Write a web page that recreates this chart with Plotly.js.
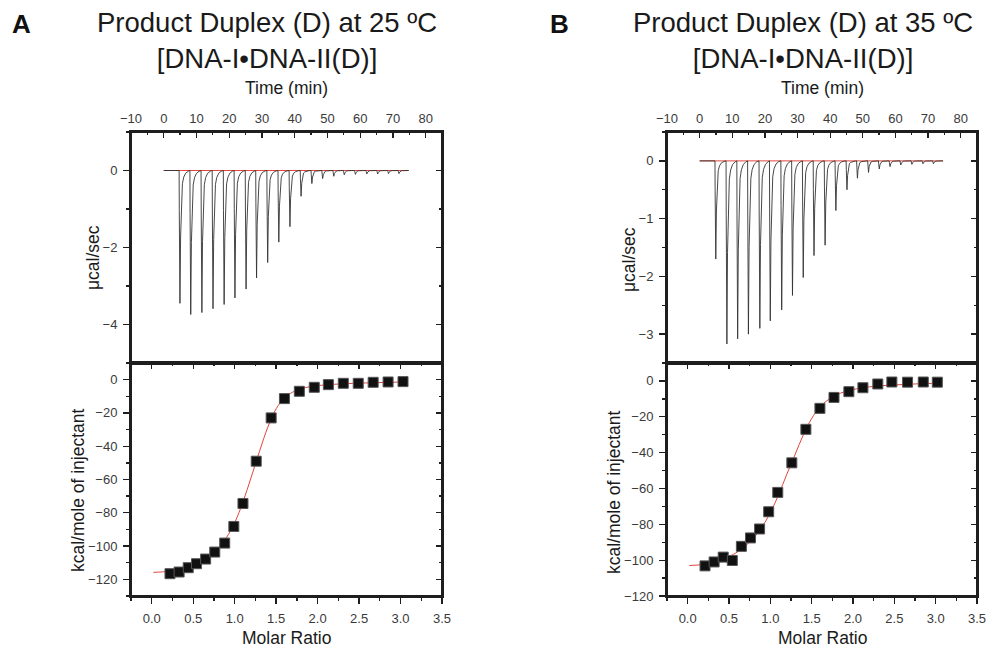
<!DOCTYPE html>
<html>
<head>
<meta charset="utf-8">
<script src="https://cdn.plot.ly/plotly-3.0.1.min.js"></script>
<style>html,body{margin:0;padding:0;background:#fff;}#chart{width:988px;height:648px;}</style>
</head>
<body>
<div id="chart"></div>
<script>
// ---------------- DATA ----------------
// Raw thermogram: injection times (min) and peak depth (µcal/sec)
const injTimeA = [4.7, 8.0, 11.4, 14.8, 18.2, 21.5, 24.9, 28.1, 31.5, 34.9, 38.3, 41.7, 45.0, 48.3, 51.7, 54.9, 58.3, 61.8, 65.1, 68.4, 71.6];
const peakA = [-3.45, -3.74, -3.69, -3.59, -3.48, -3.31, -3.08, -2.79, -2.39, -1.86, -1.46, -0.67, -0.34, -0.21, -0.15, -0.11, -0.10, -0.09, -0.09, -0.08, -0.08];
const injTimeB = [4.7, 8.1, 11.4, 14.7, 18.2, 21.4, 24.9, 28.2, 31.5, 34.8, 38.2, 41.5, 44.9, 48.1, 51.5, 54.8, 58.1, 61.4, 64.8, 68.2, 71.4];
const peakB = [-1.70, -3.17, -3.08, -3.00, -2.90, -2.77, -2.58, -2.33, -2.02, -1.64, -1.46, -0.86, -0.50, -0.30, -0.20, -0.14, -0.10, -0.07, -0.06, -0.05, -0.05];
// Shape of one injection peak (offset in min, fraction of depth)
const peakProfileMin = [0.05, 0.25, 0.45, 0.7, 1.0, 1.4, 2.0, 2.8, 3.2];
const peakProfileFrac = [0.3, 1.0, 0.5, 0.22, 0.1, 0.05, 0.02, 0.005, 0];
// Baseline (red) span in minutes
const baseTimeA = [0, 74.3];
const baseTimeB = [0, 74.5];
const baseVal = [0, 0];

// Integrated heats (kcal/mole of injectant) vs molar ratio
const ratioA = [0.22, 0.33, 0.44, 0.54, 0.65, 0.76, 0.88, 0.99, 1.10, 1.26, 1.44, 1.60, 1.78, 1.96, 2.13, 2.31, 2.49, 2.67, 2.85, 3.03];
const heatA = [-116.6, -115.6, -113.0, -110.6, -107.8, -103.6, -98.2, -88.2, -74.4, -49.0, -23.0, -11.4, -7.0, -4.6, -3.0, -2.2, -2.2, -1.6, -1.4, -1.2];
const fitRatioA = [0.02, 0.2, 0.3, 0.4, 0.5, 0.6, 0.7, 0.8, 0.9, 1.0, 1.1, 1.2, 1.3, 1.4, 1.5, 1.6, 1.7, 1.8, 1.9, 2.0, 2.2, 2.5, 2.8, 3.03];
const fitHeatA = [-115.8, -115.2, -114.3, -113.0, -111.3, -109.0, -105.8, -101.5, -95.0, -86.0, -73.5, -58.5, -43.0, -28.5, -17.5, -11.0, -7.5, -5.5, -4.3, -3.6, -2.8, -2.1, -1.7, -1.4];

const ratioB = [0.21, 0.32, 0.43, 0.54, 0.65, 0.76, 0.87, 0.98, 1.09, 1.26, 1.43, 1.60, 1.77, 1.95, 2.12, 2.30, 2.47, 2.66, 2.85, 3.02];
const heatB = [-103.2, -101.0, -98.3, -100.2, -92.3, -87.6, -82.6, -73.0, -62.2, -45.7, -27.0, -15.3, -9.2, -6.0, -3.8, -1.7, -0.6, -0.7, -0.6, -0.7];
const fitRatioB = [0.02, 0.2, 0.4, 0.5, 0.6, 0.7, 0.8, 0.9, 1.0, 1.1, 1.2, 1.3, 1.4, 1.5, 1.6, 1.7, 1.8, 1.9, 2.0, 2.2, 2.4, 2.6, 2.8, 3.02];
const fitHeatB = [-103.0, -102.3, -99.8, -98.0, -95.5, -92.0, -87.5, -81.5, -73.5, -63.5, -52.0, -41.0, -30.0, -21.0, -14.5, -10.5, -7.8, -6.0, -4.8, -3.3, -2.5, -2.0, -1.6, -1.3];

const timeTicks = [-10, 0, 10, 20, 30, 40, 50, 60, 70, 80];
const ratioTicks = [0.0, 0.5, 1.0, 1.5, 2.0, 2.5, 3.0, 3.5];

// ---------------- BUILD ----------------
function thermogram(times, peaks, endT) {
  const x = [0], y = [0];
  times.forEach((t, i) => {
    x.push(t); y.push(0);
    peakProfileMin.forEach((o, k) => { x.push(t + o); y.push(peaks[i] * peakProfileFrac[k]); });
  });
  x.push(endT); y.push(0);
  return {x, y};
}
const thA = thermogram(injTimeA, peakA, baseTimeA[1]);
const thB = thermogram(injTimeB, peakB, baseTimeB[1]);

const W = 988, H = 648;
const px = v => v / W, py = v => 1 - v / H;
const FONT = 'Liberation Sans, Arial, sans-serif';
const LINEC = '#1e1e1e';
const RED = '#e2463c';
const tickFont = {family: FONT, size: 13, color: '#3a3a3a'};

const frameA = [131, 442], frameB = [667, 977];
const frameTop = [132, 363], frameBot = [363, 596];
const domA = frameA.map(px), domB = frameB.map(px);
const domTop = [py(frameTop[1]), py(frameTop[0])], domBot = [py(frameBot[1]), py(frameBot[0])];

function baseAx(extra) {
  return Object.assign({
    showline: true, linecolor: LINEC, linewidth: 2, mirror: true,
    showgrid: false, zeroline: false, tickcolor: LINEC, tickwidth: 1.3,
    ticklen: 6, tickfont: tickFont, fixedrange: true
  }, extra);
}
function overAx(extra) {
  return Object.assign({
    showline: true, linecolor: LINEC, linewidth: 2, showgrid: false, zeroline: false, tickcolor: LINEC, tickwidth: 1.3,
    ticks: 'inside', ticklen: 6, showticklabels: false, fixedrange: true
  }, extra);
}

const layout = {
  width: W, height: H, margin: {l: 0, r: 0, t: 0, b: 0},
  paper_bgcolor: '#fff', plot_bgcolor: 'rgba(0,0,0,0)', showlegend: false,
  font: {family: FONT, color: '#222'},
  // Panel A
  xaxis: baseAx({domain: domA, anchor: 'y', side: 'top', range: [-10, 85], tickvals: timeTicks, ticks: 'inside', ticklabelstandoff: 2,
    minor: {dtick: 5, tick0: 0, ticks: 'inside', ticklen: 3, tickcolor: LINEC}}),
  yaxis: baseAx({domain: domTop, anchor: 'x', range: [-5, 1], tick0: 0, dtick: 2, ticks: 'outside', ticklabelstandoff: 3,
    minor: {dtick: 1, tick0: 0, ticks: 'outside', ticklen: 3, tickcolor: LINEC}}),
  yaxis3: overAx({overlaying: 'y', side: 'right', anchor: 'x', range: [-5, 1], tick0: 0, dtick: 2,
    minor: {dtick: 1, tick0: 0, ticks: 'inside', ticklen: 3, tickcolor: LINEC}}),
  xaxis2: baseAx({domain: domA, anchor: 'y2', side: 'bottom', range: [-0.25, 3.5], tickvals: ratioTicks, tickformat: '.1f', ticks: 'outside', ticklabelstandoff: 3,
    minor: {dtick: 0.25, tick0: 0, ticks: 'outside', ticklen: 3, tickcolor: LINEC}}),
  xaxis3: overAx({overlaying: 'x2', side: 'top', anchor: 'y2', range: [-0.25, 3.5], tickvals: ratioTicks,
    minor: {dtick: 0.25, tick0: 0, ticks: 'inside', ticklen: 3, tickcolor: LINEC}}),
  yaxis2: baseAx({domain: domBot, anchor: 'x2', range: [-130, 10], tick0: 0, dtick: 20, ticks: 'outside', ticklabelstandoff: 3,
    minor: {dtick: 10, tick0: 0, ticks: 'outside', ticklen: 3, tickcolor: LINEC}}),
  yaxis4: overAx({overlaying: 'y2', side: 'right', anchor: 'x2', range: [-130, 10], tick0: 0, dtick: 20,
    minor: {dtick: 10, tick0: 0, ticks: 'inside', ticklen: 3, tickcolor: LINEC}}),
  // Panel B
  xaxis5: baseAx({domain: domB, anchor: 'y5', side: 'top', range: [-10, 85], tickvals: timeTicks, ticks: 'inside', ticklabelstandoff: 2,
    minor: {dtick: 5, tick0: 0, ticks: 'inside', ticklen: 3, tickcolor: LINEC}}),
  yaxis5: baseAx({domain: domTop, anchor: 'x5', range: [-3.5, 0.5], tick0: 0, dtick: 1, ticks: 'outside', ticklabelstandoff: 3,
    minor: {dtick: 0.5, tick0: 0, ticks: 'outside', ticklen: 3, tickcolor: LINEC}}),
  yaxis7: overAx({overlaying: 'y5', side: 'right', anchor: 'x5', range: [-3.5, 0.5], tick0: 0, dtick: 1,
    minor: {dtick: 0.5, tick0: 0, ticks: 'inside', ticklen: 3, tickcolor: LINEC}}),
  xaxis6: baseAx({domain: domB, anchor: 'y6', side: 'bottom', range: [-0.25, 3.5], tickvals: ratioTicks, tickformat: '.1f', ticks: 'outside', ticklabelstandoff: 3,
    minor: {dtick: 0.25, tick0: 0, ticks: 'outside', ticklen: 3, tickcolor: LINEC}}),
  xaxis7: overAx({overlaying: 'x6', side: 'top', anchor: 'y6', range: [-0.25, 3.5], tickvals: ratioTicks,
    minor: {dtick: 0.25, tick0: 0, ticks: 'inside', ticklen: 3, tickcolor: LINEC}}),
  yaxis6: baseAx({domain: domBot, anchor: 'x6', range: [-120, 10], tick0: 0, dtick: 20, ticks: 'outside', ticklabelstandoff: 3,
    minor: {dtick: 10, tick0: 0, ticks: 'outside', ticklen: 3, tickcolor: LINEC}}),
  yaxis8: overAx({overlaying: 'y6', side: 'right', anchor: 'x6', range: [-120, 10], tick0: 0, dtick: 20,
    minor: {dtick: 10, tick0: 0, ticks: 'inside', ticklen: 3, tickcolor: LINEC}}),
  annotations: [],
  shapes: []
};

// Frame boxes of the four plot areas (paper coordinates, so they are not clipped)
[[frameA, frameTop], [frameA, frameBot], [frameB, frameTop], [frameB, frameBot]].forEach(([fx, fy]) => {
  layout.shapes.push({type: 'rect', xref: 'paper', yref: 'paper',
    x0: px(fx[0]), x1: px(fx[1]), y0: py(fy[1]), y1: py(fy[0]),
    line: {color: LINEC, width: 2}, fillcolor: 'rgba(0,0,0,0)', layer: 'above'});
});

function ann(text, x, y, opts) {
  layout.annotations.push(Object.assign({
    text, x: px(x), y: py(y), xref: 'paper', yref: 'paper', showarrow: false,
    xanchor: 'center', yanchor: 'middle', font: {family: FONT, size: 17.5, color: '#1a1a1a'}
  }, opts || {}));
}
// Panel letters and titles
ann('<b>A</b>', 21, 24, {font: {family: FONT, size: 26, color: '#111'}});
ann('<b>B</b>', 559, 24, {font: {family: FONT, size: 26, color: '#111'}});
ann('Product Duplex (D) at 25 ºC<br>[DNA-I•DNA-II(D)]', 266.5, 40, {font: {family: FONT, size: 27.5, color: '#1a1a1a'}});
ann('Product Duplex (D) at 35 ºC<br>[DNA-I•DNA-II(D)]', 802.5, 40, {font: {family: FONT, size: 27.5, color: '#1a1a1a'}});
// Axis titles
ann('Time (min)', 286.5, 88);
ann('Time (min)', 822, 88);
ann('Molar Ratio', 286.5, 638);
ann('Molar Ratio', 822, 638);
ann('μcal/sec', 93, 258, {textangle: -90});
ann('kcal/mole of injectant', 78, 490, {textangle: -90});
ann('μcal/sec', 629, 260, {textangle: -90});
ann('kcal/mole of injectant', 614, 492, {textangle: -90});

const dummy = (xa, ya) => ({x: [], y: [], xaxis: xa, yaxis: ya, mode: 'lines', hoverinfo: 'skip'});
const traces = [
  // Panel A top
  {x: baseTimeA, y: baseVal, xaxis: 'x', yaxis: 'y', mode: 'lines', line: {color: RED, width: 1}, hoverinfo: 'skip'},
  {x: thA.x, y: thA.y, xaxis: 'x', yaxis: 'y', mode: 'lines', line: {color: '#333', width: 0.9}, hoverinfo: 'skip'},
  // Panel A bottom
  {x: fitRatioA, y: fitHeatA, xaxis: 'x2', yaxis: 'y2', mode: 'lines', line: {color: RED, width: 1, shape: 'spline'}, hoverinfo: 'skip'},
  {x: ratioA, y: heatA, xaxis: 'x2', yaxis: 'y2', mode: 'markers', marker: {symbol: 'square', size: 10, color: '#111', line: {color: '#555', width: 1}}},
  // Panel B top
  {x: baseTimeB, y: baseVal, xaxis: 'x5', yaxis: 'y5', mode: 'lines', line: {color: RED, width: 1}, hoverinfo: 'skip'},
  {x: thB.x, y: thB.y, xaxis: 'x5', yaxis: 'y5', mode: 'lines', line: {color: '#333', width: 0.9}, hoverinfo: 'skip'},
  // Panel B bottom
  {x: fitRatioB, y: fitHeatB, xaxis: 'x6', yaxis: 'y6', mode: 'lines', line: {color: RED, width: 1, shape: 'spline'}, hoverinfo: 'skip'},
  {x: ratioB, y: heatB, xaxis: 'x6', yaxis: 'y6', mode: 'markers', marker: {symbol: 'square', size: 10, color: '#111', line: {color: '#555', width: 1}}},
  // overlay axes (inside ticks on the mirrored sides)
  dummy('x', 'y3'), dummy('x3', 'y2'), dummy('x2', 'y4'),
  dummy('x5', 'y7'), dummy('x7', 'y6'), dummy('x6', 'y8')
];

Plotly.newPlot('chart', traces, layout, {displayModeBar: false, staticPlot: true});
</script>
</body>
</html>
